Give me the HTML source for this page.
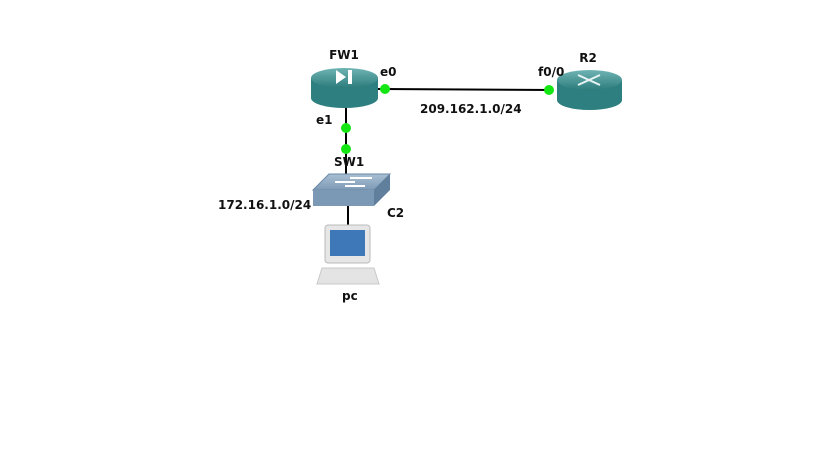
<!DOCTYPE html>
<html><head><style>
html,body{margin:0;padding:0;background:#fff;}
svg text{font-family:"DejaVu Sans","Liberation Sans",sans-serif;font-weight:bold;font-size:12px;fill:#111;}
</style></head><body>
<svg width="819" height="460" viewBox="0 0 819 460" xmlns="http://www.w3.org/2000/svg">
<defs>
<linearGradient id="cyl" x1="0" y1="0" x2="0" y2="1">
<stop offset="0" stop-color="#6fb3b3"/><stop offset="1" stop-color="#2d7c7c"/></linearGradient>
<linearGradient id="sw" x1="0" y1="0" x2="0" y2="1">
<stop offset="0" stop-color="#a9bfd3"/><stop offset="1" stop-color="#7d9ab5"/></linearGradient>
</defs>
<!-- links -->
<line x1="378" y1="89" x2="552" y2="90" stroke="#000" stroke-width="2"/>
<line x1="346" y1="108" x2="346" y2="176" stroke="#000" stroke-width="2"/>
<line x1="348" y1="206" x2="348" y2="226" stroke="#000" stroke-width="2"/>
<!-- FW1 -->
<path d="M311 78 v20 a33.5 10 0 0 0 67 0 v-20 z" fill="#2e7f80"/>
<ellipse cx="344.5" cy="78" rx="33.5" ry="10" fill="url(#cyl)"/>
<path d="M336 70 l10 7 l-10 7 z" fill="#fff"/><rect x="348" y="70" width="4" height="14" fill="#fff"/>
<!-- R2 -->
<path d="M557 80 v20 a32.5 10 0 0 0 65 0 v-20 z" fill="#2e7f80"/>
<ellipse cx="589.5" cy="80" rx="32.5" ry="10" fill="url(#cyl)"/>
<g stroke="#e8f4f4" stroke-width="2"><line x1="578" y1="75" x2="600" y2="85"/><line x1="578" y1="85" x2="600" y2="75"/></g>
<!-- switch -->
<path d="M313 190 l16 -16 h61 l-16 16 z" fill="url(#sw)" stroke="#6a8aa8"/>
<path d="M313 190 h61 v16 h-61 z" fill="#7b98b5"/>
<path d="M374 190 l16 -16 v16 l-16 16 z" fill="#5f7f9d"/>
<g stroke="#fff" stroke-width="2"><line x1="335" y1="182" x2="355" y2="182"/><line x1="345" y1="186" x2="365" y2="186"/><line x1="350" y1="178" x2="372" y2="178"/></g>
<!-- PC -->
<rect x="325" y="225" width="45" height="38" rx="3" fill="#e6e6e6" stroke="#bbb"/>
<rect x="330" y="230" width="35" height="26" fill="#3e78b8"/>
<path d="M322 268 h52 l5 16 h-62 z" fill="#e4e4e4" stroke="#c8c8c8"/>
<!-- dots -->
<g fill="#14e614"><circle cx="385" cy="89" r="5"/><circle cx="549" cy="90" r="5"/><circle cx="346" cy="128" r="5"/><circle cx="346" cy="149" r="5"/></g>
<!-- labels -->
<text x="344" y="59" text-anchor="middle">FW1</text>
<text x="380" y="76">e0</text>
<text x="588" y="62" text-anchor="middle">R2</text>
<text x="538" y="76">f0/0</text>
<text x="420" y="113">209.162.1.0/24</text>
<text x="316" y="124">e1</text>
<text x="334" y="166">SW1</text>
<text x="218" y="209">172.16.1.0/24</text>
<text x="387" y="217">C2</text>
<text x="342" y="300">pc</text>
</svg>
</body></html>
